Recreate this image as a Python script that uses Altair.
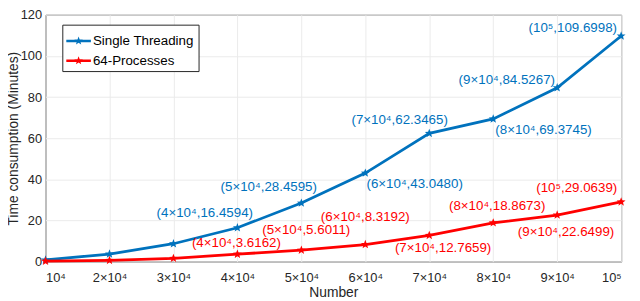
import math
import altair as alt

# ---- data ----
numbers = [10000, 20000, 30000, 40000, 50000, 60000, 70000, 80000, 90000, 100000]
x_tick_labels = ["10⁴", "2×10⁴", "3×10⁴", "4×10⁴", "5×10⁴",
                 "6×10⁴", "7×10⁴", "8×10⁴", "9×10⁴", "10⁵"]
single_threading = [0.8, 3.7, 8.7, 16.4594, 28.4595, 43.0480, 62.3465, 69.3745, 84.5267, 109.6998]
processes_64 = [0.2, 0.6, 1.6, 3.6162, 5.6011, 8.3192, 12.7659, 18.8673, 22.6499, 29.0639]
series_names = ["Single Threading", "64-Processes"]
series_colors = ["#0072BD", "#FF0000"]
annotated_from = 3  # labels start at 4x10^4

# label offsets (pixels, label centre relative to its point)
blue_offsets = [(-33, -15), (-33, -16), (50, 11), (-30, -14), (51, 11), (-51, -8), (-49, -8)]
red_offsets = [(-1, -11), (5, -20), (0, -28), (14, 13), (4, -17), (9, 17), (-45, -14)]

rows = []
for name, vals in zip(series_names, [single_threading, processes_64]):
    for i, (n, v) in enumerate(zip(numbers, vals)):
        rows.append({"Number": n, "Time": v, "Series": name, "idx": i,
                     "label": f"({x_tick_labels[i]},{v:.4f})"})
data = alt.Data(values=rows)

FONT = "Liberation Sans"
color_scale = alt.Scale(domain=series_names, range=series_colors)
label_expr = "[" + ",".join(f"'{t}'" for t in x_tick_labels) + "][round(datum.value/10000)-1]"
x_enc = alt.X("Number:Q",
              scale=alt.Scale(domain=[numbers[0], numbers[-1]], nice=False, zero=False),
              axis=alt.Axis(values=numbers, title="Number", labelExpr=label_expr))
y_enc = alt.Y("Time:Q", scale=alt.Scale(domain=[0, 120], nice=False),
              axis=alt.Axis(values=[0, 20, 40, 60, 80, 100, 120], title="Time consumption (Minutes)"))


def star_points(outer, inner):
    pts = []
    for k in range(10):
        a = math.radians(-90 + 36 * k)
        r = outer if k % 2 == 0 else inner
        pts.append(f"{r*math.cos(a):.3f},{r*math.sin(a):.3f}")
    return "M" + " L".join(pts) + " Z"


star_path = star_points(1.0, 0.42)
legend_path = "M-1,-0.1 L1,-0.1 L1,0.1 L-1,0.1 Z " + star_points(0.36, 0.15)

base = alt.Chart(data)
layers = []
for name, col in zip(series_names, series_colors):
    layers.append(
        base.transform_filter(alt.datum.Series == name)
        .mark_line(color=col, strokeWidth=2.8)
        .encode(x=x_enc, y=y_enc))

points = base.mark_point(shape=star_path, filled=True, size=90, opacity=1).encode(
    x=x_enc, y=y_enc,
    color=alt.Color("Series:N", scale=color_scale,
                    legend=alt.Legend(title=None, orient="none", legendX=17, legendY=10,
                                      symbolType=legend_path, symbolSize=620,
                                      symbolStrokeWidth=0, labelFontSize=13.5, labelFont=FONT,
                                      labelColor="#000000", fillColor="white",
                                      strokeColor="#262626", padding=4, rowPadding=1,
                                      labelOffset=2)))
layers.append(points)

for name, col, offs in zip(series_names, series_colors, [blue_offsets, red_offsets]):
    for j, (dx, dy) in enumerate(offs):
        i = annotated_from + j
        layers.append(
            base.transform_filter((alt.datum.Series == name) & (alt.datum.idx == i))
            .mark_text(dx=dx, dy=dy, color=col, fontSize=13.5, font=FONT,
                       align="center", baseline="middle")
            .encode(x=x_enc, y=y_enc, text="label:N"))

chart = alt.layer(*layers).properties(
    width=583, height=250,
    autosize=alt.AutoSizeParams(type="none"),
    padding={"left": 38, "top": 5, "right": 11, "bottom": 38},
).configure_view(stroke="#262626", strokeWidth=1).configure_axis(
    grid=True, gridColor="#ebebeb", domain=False, ticks=False,
    labelFont=FONT, labelFontSize=13, labelColor="#262626",
    titleFont=FONT, titleFontSize=14, titleColor="#262626", titleFontWeight="normal",
).configure_axisX(labelPadding=10, titlePadding=1).configure_axisY(labelPadding=4, titlePadding=0)

chart.save("out.html", embed_options={"renderer": "svg", "actions": False})
